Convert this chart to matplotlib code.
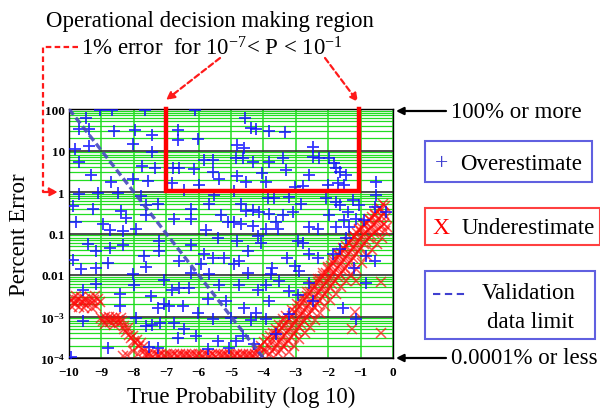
import matplotlib
matplotlib.use('Agg')
import matplotlib.pyplot as plt
from matplotlib.patches import Rectangle, FancyArrowPatch
from matplotlib.lines import Line2D

plt.rcParams['font.family'] = ['Liberation Serif', 'DejaVu Serif']
plt.rcParams['mathtext.fontset'] = 'custom'
plt.rcParams['mathtext.rm'] = 'Liberation Serif'
plt.rcParams['mathtext.bf'] = 'Liberation Serif:bold'
plt.rcParams['mathtext.it'] = 'Liberation Serif:italic'

# ---------------- data (log10 true probability, log10 percent error) ----------------
x_ticks = [-10, -9, -8, -7, -6, -5, -4, -3, -2, -1, 0]
x_tick_labels = ['\u221210', '\u22129', '\u22128', '\u22127', '\u22126', '\u22125',
                 '\u22124', '\u22123', '\u22122', '\u22121', '0']
y_ticks = [1e-4, 1e-3, 1e-2, 1e-1, 1, 10, 100]
y_tick_labels = [r'$\mathbf{10^{-4}}$', r'$\mathbf{10^{-3}}$', '0.01', '0.1', '1', '10', '100']

over_points = [
    (-9.47, 1.78), (-9.68, 1.52), (-9.39, 1.52), (-8.60, 1.47), (-7.96, 1.50), (-7.44, 1.38),
    (-8.03, 1.15), (-9.83, 1.04), (-9.39, 1.12), (-7.44, 0.96), (-9.68, 0.72), (-7.74, 0.63),
    (-7.36, 0.57), (-9.32, 0.41), (-8.70, 0.25), (-8.03, 0.31), (-7.57, 0.26), (-6.80, 0.57),
    (-6.82, 0.21), (-9.70, -0.06), (-9.11, -0.03), (-8.50, -0.03), (-7.78, -0.09), (-7.26, -0.28),
    (-7.62, -0.32), (-9.88, -0.33), (-9.27, -0.41), (-8.39, -0.46), (-8.24, -0.62), (-7.62, -0.56),
    (-9.78, -0.72), (-8.96, -0.78), (-8.75, -0.92), (-8.34, -0.94), (-7.93, -0.88), (-6.77, -0.65),
    (-9.04, 1.97), (-8.67, 1.97), (-7.65, 1.97), (-6.12, 1.97),
    (-4.57, 1.78), (-4.39, 1.55), (-4.23, 1.52), (-3.82, 1.46), (-3.32, 1.45), (-6.65, 1.50),
    (-6.03, 1.27), (-6.65, 1.25), (-4.80, 1.13), (-4.59, 1.07), (-5.83, 0.77), (-5.57, 0.77),
    (-4.85, 0.83), (-4.64, 0.81), (-4.33, 0.73), (-3.84, 0.72), (-3.41, 0.81), (-6.60, 0.59),
    (-6.13, 0.55), (-5.57, 0.49), (-4.80, 0.39), (-5.36, 0.31), (-4.54, 0.23), (-4.03, 0.45),
    (-3.92, 0.23), (-3.30, 0.53), (-5.98, 0.17), (-6.44, 0.05), (-4.90, 0.02), (-5.52, -0.07),
    (-5.67, -0.30), (-6.24, -0.41), (-4.69, -0.28), (-4.54, -0.46), (-4.33, -0.44), (-4.13, -0.48),
    (-3.82, -0.52), (-3.67, -0.14), (-3.87, -0.14), (-3.41, -0.56), (-5.31, -0.56), (-6.24, -0.64),
    (-5.10, -0.73), (-4.90, -0.72), (-4.69, -0.76), (-4.33, -0.81), (-3.61, -0.72), (-5.77, -0.92),
    (-3.92, -0.90), (-3.56, -0.88),
    (-2.48, 1.09), (-2.48, 0.85), (-2.27, 0.81), (-1.96, 0.83), (-1.81, 0.69), (-1.76, 0.57),
    (-1.65, 0.49), (-1.45, 0.41), (-2.58, 0.41), (-1.71, 0.21), (-2.01, 0.17), (-1.50, 0.17),
    (-3.04, 0.13), (-2.79, 0.14), (-0.52, 0.25), (-0.52, -0.07), (-3.20, -0.11), (-2.84, -0.28),
    (-2.07, -0.15), (-1.76, -0.23), (-1.65, -0.32), (-1.24, -0.19), (-1.04, -0.32), (-0.57, -0.36),
    (-3.09, -0.48), (-1.96, -0.56), (-1.40, -0.48), (-1.50, -0.68), (-1.14, -0.64), (-0.88, -0.68),
    (-2.58, -0.84), (-2.32, -0.88), (-1.76, -0.84), (-1.35, -0.84), (-0.21, -0.48),
    (-9.42, -1.25), (-9.16, -1.41), (-8.75, -1.34), (-8.34, -1.28), (-9.88, -1.65), (-9.63, -1.86),
    (-9.16, -1.82), (-8.80, -1.70), (-7.67, -1.54), (-7.62, -1.81), (-7.21, -1.18), (-7.21, -1.42),
    (-8.03, -1.98), (-7.98, -2.23), (-9.16, -2.21), (-9.58, -2.35), (-8.44, -2.45), (-8.44, -2.75),
    (-7.47, -2.51), (-7.06, -2.13), (-6.82, -2.35), (-7.26, -2.79), (-7.06, -2.71), (-6.90, -2.75),
    (-9.58, -3.11), (-7.93, -3.04), (-7.62, -3.23), (-7.44, -3.21), (-7.19, -3.15), (-6.75, -3.15),
    (-8.80, -3.77), (-7.26, -3.77), (-7.54, -3.74), (-9.94, -3.97),
    (-6.24, -1.28), (-5.41, -1.10), (-4.80, -1.18), (-4.49, -1.41), (-4.18, -1.06), (-4.08, -1.22),
    (-5.83, -1.50), (-5.57, -1.58), (-5.21, -1.58), (-6.60, -1.66), (-5.93, -1.74), (-4.90, -1.74),
    (-4.75, -1.66), (-6.24, -1.94), (-5.67, -1.98), (-4.49, -1.94), (-3.72, -1.82), (-3.77, -1.98),
    (-3.28, -1.60), (-6.60, -2.31), (-6.29, -2.31), (-5.36, -2.23), (-4.75, -2.23), (-4.18, -2.35),
    (-3.92, -2.23), (-3.51, -2.14), (-5.72, -2.59), (-5.16, -2.63), (-4.59, -2.79), (-3.82, -2.63),
    (-6.49, -2.75), (-6.03, -2.91), (-5.57, -3.07), (-5.00, -3.03), (-4.39, -3.09), (-4.23, -2.91),
    (-6.44, -3.31), (-6.65, -3.51), (-6.08, -3.47), (-5.41, -3.59), (-4.85, -3.59), (-4.64, -3.47),
    (-5.72, -3.79), (-5.05, -3.75), (-4.28, -3.67), (-3.92, -3.07), (-3.61, -3.43),
    (-2.94, -1.18), (-2.79, -1.22), (-2.58, -1.50), (-2.32, -1.58), (-3.04, -1.78), (-2.89, -1.90),
    (-1.86, -1.50), (-1.65, -1.38), (-1.19, -1.82), (-0.83, -1.54), (-0.57, -1.66), (-1.45, -1.10),
    (-3.20, -2.39), (-2.58, -2.19), (-2.94, -2.47), (-1.55, -2.79), (-0.83, -2.19), (-1.14, -3.07),
    (-2.48, -2.63), (-3.20, -2.95),
]

under_points = [
    # low-probability plateau
    (-9.95, -2.62), (-9.88, -2.55), (-9.82, -2.70), (-9.75, -2.60), (-9.70, -2.76), (-9.64, -2.52),
    (-9.58, -2.66), (-9.52, -2.58), (-9.46, -2.72), (-9.40, -2.62), (-9.34, -2.54), (-9.28, -2.68),
    (-9.22, -2.60), (-9.16, -2.74), (-9.10, -2.57), (-9.05, -2.65), (-9.92, -2.78), (-9.55, -2.80),
    (-9.78, -2.50), (-9.30, -2.80), (-9.62, -2.64), (-9.85, -2.66), (-9.20, -2.50),
    (-9.02, -3.04), (-8.95, -3.12), (-8.90, -3.00), (-8.84, -3.08), (-8.78, -3.02), (-8.72, -3.14),
    (-8.66, -3.04), (-8.60, -3.10), (-8.55, -3.00), (-8.50, -3.08), (-8.45, -3.16), (-8.40, -3.04),
    (-8.35, -3.12), (-8.30, -3.22), (-8.88, -3.18), (-8.62, -3.20),
    (-8.30, -3.30), (-8.24, -3.38), (-8.18, -3.28), (-8.14, -3.44), (-8.10, -3.52), (-8.04, -3.46),
    (-8.00, -3.58), (-7.95, -3.64), (-7.90, -3.56), (-7.84, -3.70), (-7.78, -3.64), (-7.72, -3.74),
    (-8.32, -3.96), (-8.20, -3.92), (-8.02, -3.84), (-7.88, -3.90), (-7.70, -3.82),
    # floor (0.0001% or less)
    (-7.65, -3.92), (-7.55, -3.90), (-7.46, -3.93), (-7.36, -3.91), (-7.26, -3.92), (-7.17, -3.90),
    (-7.07, -3.93), (-6.97, -3.91), (-6.87, -3.92), (-6.77, -3.90), (-6.68, -3.93), (-6.58, -3.91),
    (-6.48, -3.92), (-6.38, -3.90), (-6.29, -3.93), (-6.19, -3.91), (-6.09, -3.92), (-5.99, -3.90),
    (-5.90, -3.93), (-5.80, -3.91), (-5.70, -3.92), (-5.60, -3.90), (-5.51, -3.93), (-5.41, -3.91),
    (-5.31, -3.92), (-5.21, -3.90), (-5.12, -3.93), (-5.02, -3.91), (-4.92, -3.92), (-4.82, -3.90),
    (-4.73, -3.93), (-4.63, -3.91), (-4.53, -3.92), (-4.43, -3.90), (-4.34, -3.93), (-4.25, -3.91),
    (-7.60, -3.96), (-7.41, -3.97), (-7.21, -3.96), (-7.02, -3.97), (-6.82, -3.96), (-6.63, -3.97),
    (-6.43, -3.96), (-6.24, -3.97), (-6.04, -3.96), (-5.85, -3.97), (-5.65, -3.96), (-5.46, -3.97),
    (-5.26, -3.96), (-5.07, -3.97), (-4.87, -3.96), (-4.68, -3.97), (-4.48, -3.96), (-4.30, -3.97),
    # rising band
    (-4.20, -3.86), (-4.17, -3.75), (-4.10, -3.90), (-4.06, -3.70), (-4.00, -3.80), (-3.97, -3.62),
    (-3.92, -3.86), (-3.89, -3.55), (-3.84, -3.72), (-3.81, -3.48), (-3.79, -3.90), (-3.76, -3.60),
    (-3.73, -3.84), (-3.70, -3.40), (-3.68, -3.50), (-3.65, -3.75), (-3.62, -3.30), (-3.60, -3.42),
    (-3.57, -3.66), (-3.55, -3.88), (-3.53, -3.20), (-3.52, -3.35), (-3.49, -3.58), (-3.47, -3.80),
    (-3.44, -3.28), (-3.42, -3.50), (-3.40, -3.72), (-3.38, -3.05), (-3.36, -3.20), (-3.33, -3.44),
    (-3.31, -3.66), (-3.29, -2.98), (-3.28, -3.12), (-3.25, -3.36), (-3.23, -3.58), (-3.21, -3.85),
    (-3.20, -3.05), (-3.17, -3.28), (-3.15, -3.50), (-3.13, -2.85), (-3.12, -2.98), (-3.09, -3.20),
    (-3.07, -3.42), (-3.05, -3.70), (-3.04, -2.90), (-3.01, -3.12), (-2.99, -3.34), (-2.97, -2.70),
    (-2.96, -2.82), (-2.93, -3.04), (-2.91, -3.26), (-2.89, -3.55), (-2.88, -2.74), (-2.85, -2.96),
    (-2.83, -3.18), (-2.81, -2.55), (-2.80, -2.66), (-2.77, -2.88), (-2.75, -3.10), (-2.73, -3.40),
    (-2.72, -2.58), (-2.69, -2.80), (-2.67, -3.02), (-2.65, -2.40), (-2.64, -2.50), (-2.61, -2.72),
    (-2.59, -2.94), (-2.57, -3.25), (-2.56, -2.42), (-2.53, -2.64), (-2.51, -2.86), (-2.49, -2.25),
    (-2.48, -2.34), (-2.45, -2.56), (-2.43, -2.78), (-2.41, -3.08), (-2.40, -2.26), (-2.37, -2.48),
    (-2.35, -2.70), (-2.33, -2.10), (-2.32, -2.18), (-2.29, -2.40), (-2.27, -2.62), (-2.25, -2.92),
    (-2.24, -2.10), (-2.21, -2.32), (-2.19, -2.54), (-2.17, -1.95), (-2.16, -2.02), (-2.13, -2.24),
    (-2.11, -2.46), (-2.09, -2.75), (-2.08, -1.94), (-2.05, -2.16), (-2.03, -2.38), (-2.01, -1.80),
    (-2.00, -1.86), (-1.97, -2.08), (-1.95, -2.30), (-1.93, -2.60), (-1.92, -1.78), (-1.89, -2.00),
    (-1.87, -2.22), (-1.85, -1.65), (-1.84, -1.70), (-1.81, -1.92), (-1.79, -2.14), (-1.77, -2.45),
    (-1.76, -1.62), (-1.73, -1.84), (-1.71, -2.06), (-1.69, -1.50), (-1.68, -1.54), (-1.65, -1.76),
    (-1.63, -1.98), (-1.61, -2.30), (-1.60, -1.46), (-1.57, -1.68), (-1.55, -1.90), (-1.53, -1.35),
    (-1.52, -1.38), (-1.49, -1.60), (-1.47, -1.82), (-1.45, -2.15), (-1.44, -1.30), (-1.41, -1.52),
    (-1.39, -1.74), (-1.37, -1.20), (-1.36, -1.22), (-1.33, -1.44), (-1.31, -1.66), (-1.29, -2.00),
    (-1.28, -1.14), (-1.25, -1.36), (-1.23, -1.58), (-1.21, -1.05), (-1.20, -1.06), (-1.17, -1.28),
    (-1.15, -1.50), (-1.13, -1.85), (-1.12, -0.98), (-1.09, -1.20), (-1.07, -1.42), (-1.05, -0.90),
    (-1.04, -0.92), (-1.01, -1.12), (-0.99, -1.34), (-0.97, -1.70), (-0.96, -0.86), (-0.93, -1.04),
    (-0.91, -1.26), (-0.89, -0.78), (-0.88, -0.80), (-0.85, -0.98), (-0.83, -1.18), (-0.81, -1.55),
    (-0.80, -0.74), (-0.77, -0.92), (-0.75, -1.10), (-0.73, -0.66), (-0.72, -0.68), (-0.69, -0.86),
    (-0.67, -1.04), (-0.65, -1.40), (-0.64, -0.60), (-0.61, -0.80), (-0.59, -0.98), (-0.57, -0.55),
    (-0.56, -0.52), (-0.53, -0.74), (-0.51, -0.94), (-0.49, -1.25), (-0.48, -0.46), (-0.45, -0.66),
    (-0.43, -0.88), (-0.41, -0.40), (-0.40, -0.38), (-0.37, -0.58), (-0.35, -0.82), (-0.33, -1.10),
    (-0.32, -0.30), (-0.29, -0.52), (-0.27, -0.76), (-0.25, -0.95), (-0.24, -0.34), (-0.22, -0.60),
    (-0.20, -0.85),
    # scattered outliers
    (-1.14, -2.14), (-0.38, -2.16), (-1.16, -2.90), (-1.27, -3.30), (-0.38, -3.40),
]

validation_limit_x = [-10, -4]
validation_limit_logerr = [2, -4]

region_x = [-7.0, -7.0, -1.04, -1.04]
region_err = [100, 1.06, 1.06, 100]

# ---------------- figure ----------------
W, H = 600, 410
fig = plt.figure(figsize=(6, 4.1), dpi=100)
ax = fig.add_axes([69 / W, 1 - 359 / H, 324 / W, 249 / H])


def P(x, y):
    return (x / W, 1 - y / H)


ax.set_xlim(-10, 0)
ax.set_yscale('log')
ax.set_ylim(1e-4, 100)

green = '#22dd22'
# grid
for xv in x_ticks:
    ax.axvline(xv, color=green, lw=1.1, zorder=1)
for d in range(-4, 2):
    for s in [2, 3, 4, 5, 6, 7, 8, 9]:
        ax.axhline(s * 10.0 ** d, color=green, lw=0.9, zorder=1)
for yv in y_ticks:
    ax.axhline(yv, color='#303030', lw=1.2, zorder=1.5)

ax.set_xticks(x_ticks)
ax.set_xticklabels(x_tick_labels, fontsize=9.5, fontweight='bold')
ax.set_yticks(y_ticks)
ax.set_yticklabels(y_tick_labels, fontsize=9.5, fontweight='bold')
ax.yaxis.set_minor_locator(matplotlib.ticker.NullLocator())
ax.tick_params(length=0)
ax.tick_params(axis='x', pad=6)
ax.tick_params(axis='y', pad=3)
for sp in ax.spines.values():
    sp.set_color('black')
    sp.set_linewidth(1.0)

ux = [p[0] for p in under_points]
uy = [10 ** p[1] for p in under_points]
ax.plot(ux, uy, ls='none', marker='x', color='#ff0a0a', ms=6.5, mew=1.1, alpha=0.7, zorder=2)

ox = [p[0] for p in over_points]
oy = [10 ** p[1] for p in over_points]
ax.plot(ox, oy, ls='none', marker='+', color='#1010ff', ms=8, mew=1.3, alpha=0.85, zorder=3)

ax.plot(validation_limit_x, [10 ** v for v in validation_limit_logerr], color='#4848c0',
        lw=2.4, dashes=(2.2, 1.1), zorder=4, alpha=0.9)

ax.plot(region_x, region_err, color='#ff0000', lw=3.2, zorder=5, clip_on=False,
        solid_joinstyle='miter')

# axis titles
fig.text(*P(20, 235), 'Percent Error', rotation=90, ha='center', va='center', fontsize=16.5)
fig.text(*P(241, 397), 'True Probability (log 10)', ha='center', va='center', fontsize=16.5)

# top annotations
fig.text(*P(210, 27), 'Operational decision making region', ha='center', va='baseline', fontsize=16.5)
fig.text(*P(212, 56), r'1% error  for 10$^{-7}$< P < 10$^{-1}$', ha='center', va='baseline', fontsize=16.5)

red = '#ff1a1a'
fig.add_artist(Line2D([78 / W, 43 / W, 43 / W], [1 - 48 / H, 1 - 48 / H, 1 - 193 / H],
                      transform=fig.transFigure, color=red, lw=1.6, ls=(0, (2.5, 1.5))))
for (x0, y0, x1, y1) in [(43, 193, 58, 193), (220, 59, 166, 101), (325, 59, 358, 103)]:
    fig.add_artist(FancyArrowPatch(P(x0, y0), P(x1, y1), transform=fig.transFigure,
                                   arrowstyle='-|>', mutation_scale=12, color=red, lw=1.6,
                                   linestyle=(0, (2.5, 1.5)), shrinkA=0, shrinkB=0))

# right annotations
for (yy, label) in [(112, '100% or more'), (359, '0.0001% or less')]:
    fig.add_artist(FancyArrowPatch(P(446, yy), P(396, yy), transform=fig.transFigure,
                                   arrowstyle='-|>', mutation_scale=11, color='black', lw=1.6,
                                   shrinkA=0, shrinkB=0))
    fig.text(*P(451, yy), label, ha='left', va='center', fontsize=16.5)

# legend boxes
boxes = [(425, 142, 167, 41, '#6060e0'), (425, 209, 175, 37, '#ff4040'), (425, 272, 170, 68, '#6060e0')]
for (bx, by, bw, bh, c) in boxes:
    fig.add_artist(Rectangle(P(bx, by + bh), bw / W, bh / H, transform=fig.transFigure,
                             fill=False, edgecolor=c, lw=1.5))
fig.text(*P(441, 164), '+', ha='center', va='center', fontsize=17, color='#4040d0')
fig.text(*P(460, 164), 'Overestimate', ha='left', va='center', fontsize=16.5)
fig.text(*P(441, 229), 'X', ha='center', va='center', fontsize=17, color='#ff0000')
fig.text(*P(462, 229), 'Underestimate', ha='left', va='center', fontsize=16.5)
fig.add_artist(Line2D([433 / W, 468 / W], [1 - 295 / H, 1 - 295 / H], transform=fig.transFigure,
                      color='#4040d0', lw=1.5, ls=(0, (3.5, 2.2))))
fig.text(*P(482, 294), 'Validation', ha='left', va='center', fontsize=16.5)
fig.text(*P(487, 323), 'data limit', ha='left', va='center', fontsize=16.5)

fig.savefig('out.png', dpi=100)
